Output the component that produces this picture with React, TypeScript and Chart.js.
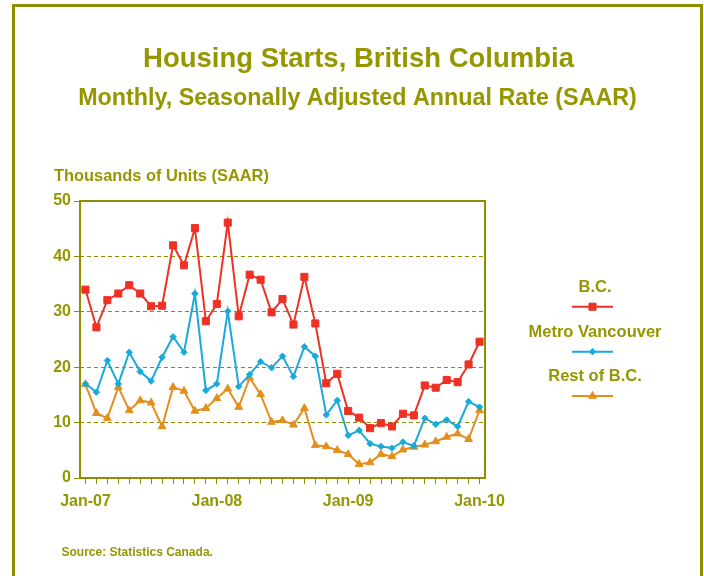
import React, { useEffect, useRef } from 'react';
import { Chart, registerables } from 'chart.js';
import { drawPoint } from 'chart.js/helpers';

Chart.register(...registerables);

const months = [
  'Jan-07', 'Feb-07', 'Mar-07', 'Apr-07', 'May-07', 'Jun-07', 'Jul-07', 'Aug-07', 'Sep-07', 'Oct-07', 'Nov-07', 'Dec-07',
  'Jan-08', 'Feb-08', 'Mar-08', 'Apr-08', 'May-08', 'Jun-08', 'Jul-08', 'Aug-08', 'Sep-08', 'Oct-08', 'Nov-08', 'Dec-08',
  'Jan-09', 'Feb-09', 'Mar-09', 'Apr-09', 'May-09', 'Jun-09', 'Jul-09', 'Aug-09', 'Sep-09', 'Oct-09', 'Nov-09', 'Dec-09',
  'Jan-10',
];

const bcValues = [
  34.0, 27.2, 32.1, 33.3, 34.8, 33.3, 31.0, 31.1, 42.0, 38.4, 45.1, 28.3,
  31.4, 46.1, 29.2, 36.7, 35.8, 29.9, 32.3, 27.7, 36.3, 27.9, 17.1, 18.8,
  12.1, 10.9, 9.0, 9.9, 9.3, 11.6, 11.3, 16.7, 16.3, 17.7, 17.3, 20.5,
  24.6,
];

const metroValues = [
  17.0, 15.5, 21.2, 17.0, 22.7, 19.2, 17.5, 21.8, 25.5, 22.7, 33.3, 15.8,
  17.0, 30.1, 16.5, 18.7, 21.0, 19.9, 22.0, 18.3, 23.7, 22.0, 11.4, 14.0,
  7.7, 8.6, 6.2, 5.7, 5.4, 6.5, 5.8, 10.8, 9.7, 10.5, 9.3, 13.8,
  12.8,
];

const restValues = [
  16.9, 11.7, 10.8, 16.4, 12.2, 14.0, 13.6, 9.3, 16.4, 15.7, 12.1, 12.6,
  14.4, 16.1, 12.8, 18.1, 15.1, 10.1, 10.4, 9.6, 12.6, 5.9, 5.7, 5.0,
  4.3, 2.5, 2.8, 4.3, 3.9, 5.1, 5.6, 6.0, 6.6, 7.4, 8.0, 7.0,
  12.2,
];

const xTickLabels = ['Jan-07', 'Jan-08', 'Jan-09', 'Jan-10'];
const yTickValues = [0, 10, 20, 30, 40, 50];
const seriesNames = ['B.C.', 'Metro Vancouver', 'Rest of B.C.'];

const TITLE = 'Housing Starts, British Columbia';
const SUBTITLE = 'Monthly, Seasonally Adjusted Annual Rate (SAAR)';
const Y_TITLE = 'Thousands of Units (SAAR)';
const SOURCE = 'Source: Statistics Canada.';

const TEXT = '#969600';
const LINE = '#8e8e00';
const RED = '#ee3124';
const BLUE = '#19a9db';
const ORANGE = '#e38f1f';
const FONT = '"Liberation Sans", Arial, Helvetica, sans-serif';

const decorPlugin = {
  id: 'decor',
  beforeDatasetsDraw(chart: any) {
    const { ctx, chartArea: a } = chart;
    ctx.save();
    ctx.strokeStyle = LINE;
    ctx.lineWidth = 2;
    ctx.strokeRect(a.left, a.top, a.right - a.left, a.bottom - a.top);
    ctx.restore();
  },
  afterDraw(chart: any) {
    const ctx = chart.ctx;
    ctx.save();
    ctx.strokeStyle = LINE;
    ctx.lineWidth = 3;
    ctx.strokeRect(13.5, 5.5, 688, 640);

    ctx.fillStyle = TEXT;
    ctx.textBaseline = 'alphabetic';
    ctx.textAlign = 'center';
    ctx.font = `bold 27.5px ${FONT}`;
    ctx.fillText(TITLE, 358.5, 67);
    ctx.font = `bold 23.3px ${FONT}`;
    ctx.fillText(SUBTITLE, 357.5, 105);

    ctx.textAlign = 'left';
    ctx.font = `bold 16.4px ${FONT}`;
    ctx.fillText(Y_TITLE, 54, 180.7);
    ctx.font = `bold 12px ${FONT}`;
    ctx.fillText(SOURCE, 61.5, 555.5);

    const textBase = [292.3, 336.7, 381];
    const lineY = [306.7, 351.7, 396];
    chart.data.datasets.forEach((ds: any, i: number) => {
      ctx.fillStyle = TEXT;
      ctx.textAlign = 'center';
      ctx.font = `bold 16.5px ${FONT}`;
      ctx.fillText(ds.label, 595, textBase[i]);
      ctx.strokeStyle = ds.borderColor;
      ctx.lineWidth = 2;
      ctx.beginPath();
      ctx.moveTo(572, lineY[i]);
      ctx.lineTo(613, lineY[i]);
      ctx.stroke();
      ctx.fillStyle = ds.pointBackgroundColor;
      ctx.strokeStyle = ds.pointBorderColor;
      ctx.lineWidth = ds.pointBorderWidth;
      drawPoint(ctx, { pointStyle: ds.pointStyle, rotation: 0, radius: ds.pointRadius, borderWidth: ds.pointBorderWidth }, 592.5, lineY[i]);
    });
    ctx.restore();
  },
};

export default function App() {
  const ref = useRef<HTMLCanvasElement | null>(null);

  useEffect(() => {
    if (!ref.current) return;
    const chart = new Chart(ref.current, {
      type: 'line',
      data: {
        labels: months,
        datasets: [
          {
            label: seriesNames[0],
            data: bcValues,
            borderColor: RED,
            backgroundColor: RED,
            pointBackgroundColor: RED,
            pointBorderColor: RED,
            pointStyle: 'rect',
            pointRadius: 5,
            pointBorderWidth: 1,
            borderWidth: 2,
            tension: 0,
          },
          {
            label: seriesNames[1],
            data: metroValues,
            borderColor: BLUE,
            backgroundColor: BLUE,
            pointBackgroundColor: BLUE,
            pointBorderColor: BLUE,
            pointStyle: 'rectRot',
            pointRadius: 3.2,
            pointBorderWidth: 1,
            borderWidth: 2,
            tension: 0,
          },
          {
            label: seriesNames[2],
            data: restValues,
            borderColor: ORANGE,
            backgroundColor: ORANGE,
            pointBackgroundColor: ORANGE,
            pointBorderColor: ORANGE,
            pointStyle: 'triangle',
            pointRadius: 4.5,
            pointBorderWidth: 1,
            borderWidth: 2,
            tension: 0,
          },
        ],
      },
      options: {
        responsive: false,
        animation: false,
        devicePixelRatio: 1,
        layout: { padding: { left: 50, top: 201, right: 219, bottom: 68 } },
        plugins: {
          legend: { display: false },
          title: { display: false },
          tooltip: { enabled: false },
        },
        scales: {
          x: {
            type: 'category',
            offset: true,
            afterFit: (s: any) => { s.height = 30; },
            border: { display: false },
            grid: {
              offset: false,
              drawOnChartArea: false,
              drawTicks: true,
              tickLength: 6,
              tickColor: LINE,
              tickWidth: 1,
              color: LINE,
            },
            ticks: {
              autoSkip: false,
              maxRotation: 0,
              minRotation: 0,
              padding: 8,
              color: TEXT,
              font: { family: FONT, size: 16, weight: 'bold' },
              callback: (_v: any, i: number) => (xTickLabels.includes(months[i]) ? months[i] : ''),
            },
          },
          y: {
            min: yTickValues[0],
            max: yTickValues[yTickValues.length - 1],
            afterFit: (s: any) => { s.width = 30; },
            afterBuildTicks: (s: any) => { s.ticks = yTickValues.map((v) => ({ value: v })); },
            border: { display: false, dash: [4, 3] },
            grid: {
              color: (c: any) => (c.tick && (c.tick.value === 0 || c.tick.value === 50) ? 'rgba(0,0,0,0)' : LINE),
              lineWidth: 1,
              tickBorderDash: [],
              tickColor: LINE,
              tickLength: 6,
              tickWidth: 1,
            },
            ticks: {
              padding: 3,
              color: TEXT,
              font: { family: FONT, size: 16, weight: 'bold' },
            },
          },
        },
      },
      plugins: [decorPlugin],
    } as any);
    return () => chart.destroy();
  }, []);

  return (
    <div style={{ position: 'absolute', left: 0, top: 0, width: 704, height: 576, background: '#fff' }}>
      <canvas ref={ref} width={704} height={576} style={{ display: 'block', width: 704, height: 576 }} />
    </div>
  );
}
